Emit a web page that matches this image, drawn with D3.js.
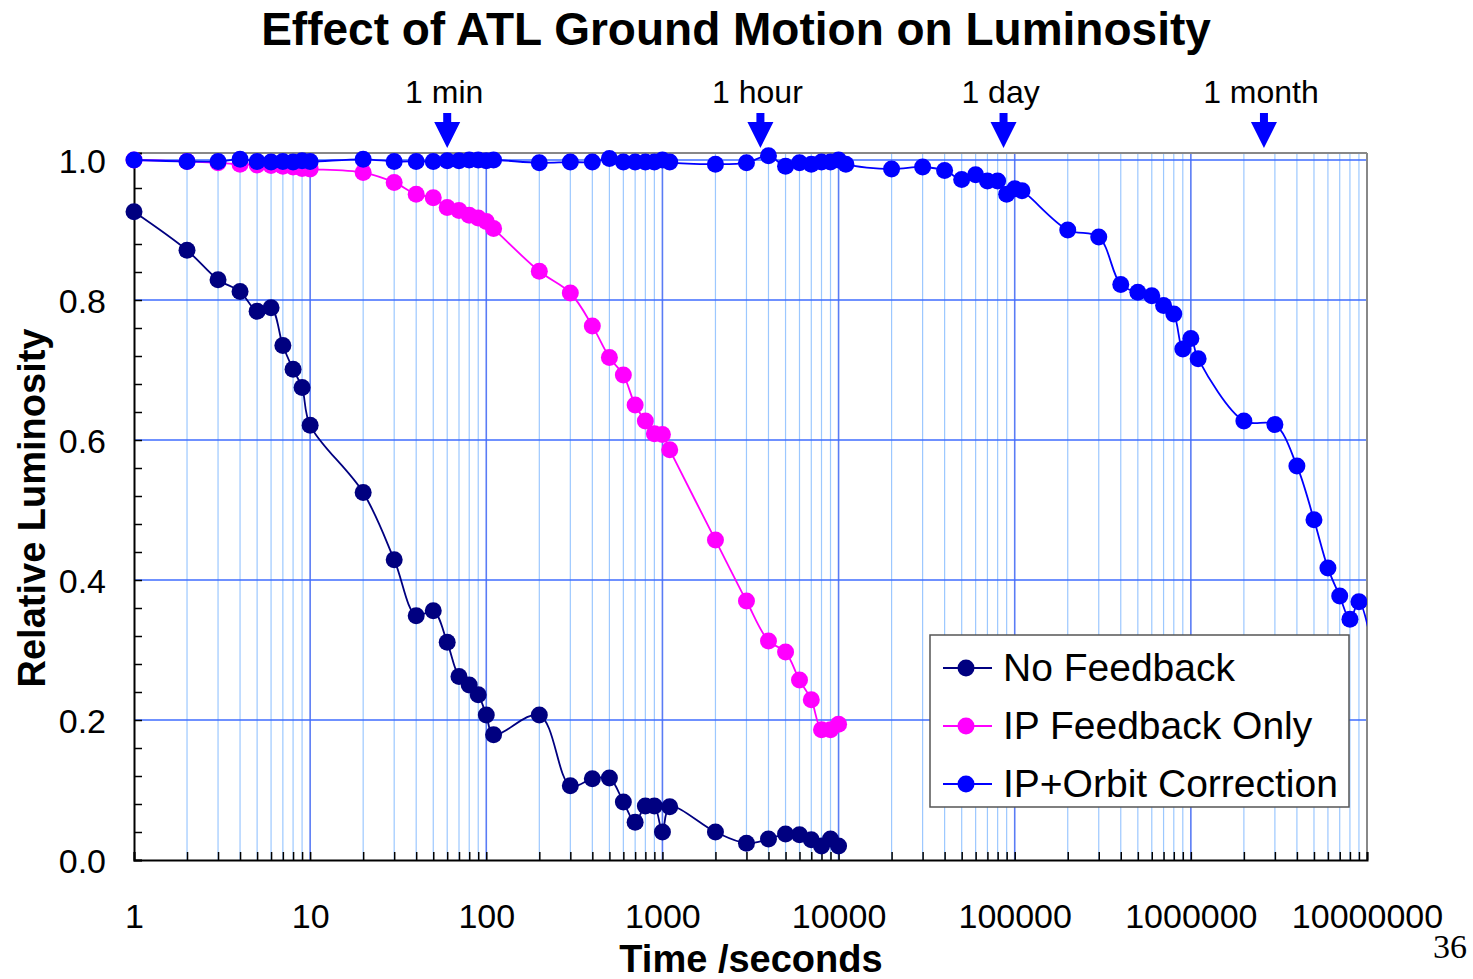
<!DOCTYPE html>
<html>
<head>
<meta charset="utf-8">
<script src="https://cdn.jsdelivr.net/npm/d3@7"></script>
<style>
  body { margin: 0; background: #fff; }
  text { font-family: "Liberation Sans", Arial, sans-serif; }
</style>
</head>
<body>
<div id="chart"></div>
<script>
// time points (seconds) - same grid for the two short series
const timesShort = [1, 2, 3, 4, 5, 6, 7, 8, 9, 10, 20, 30, 40, 50, 60, 70, 80, 90, 100, 110,
    200, 300, 400, 500, 600, 700, 800, 900, 1000, 1100,
    2000, 3000, 4000, 5000, 6000, 7000, 8000, 9000, 10000];

const noFeedback = [0.926, 0.871, 0.829, 0.812, 0.784, 0.789, 0.735, 0.701, 0.675, 0.621,
    0.525, 0.429, 0.349, 0.356, 0.311, 0.262, 0.25, 0.236, 0.207, 0.179,
    0.207, 0.106, 0.116, 0.117, 0.083, 0.054, 0.077, 0.077, 0.04, 0.076,
    0.04, 0.024, 0.03, 0.037, 0.036, 0.029, 0.02, 0.03, 0.02];

const ipFeedback = [1.0, 0.998, 0.996, 0.994, 0.993, 0.992, 0.991, 0.99, 0.988, 0.987,
    0.982, 0.968, 0.951, 0.946, 0.932, 0.928, 0.921, 0.917, 0.912, 0.902,
    0.841, 0.81, 0.763, 0.718, 0.693, 0.65, 0.627, 0.609, 0.608, 0.586,
    0.457, 0.37, 0.313, 0.297, 0.257, 0.229, 0.186, 0.186, 0.194];

const timesLong = [1, 2, 3, 4, 5, 6, 7, 8, 9, 10, 20, 30, 40, 50, 60, 70, 80, 90, 100, 110,
    200, 300, 400, 500, 600, 700, 800, 900, 1000, 1100,
    2000, 3000, 4000, 5000, 6000, 7000, 8000, 9000, 10000, 11000,
    20000, 30000, 40000, 50000, 60000, 70000, 80000, 90000, 100000, 110000,
    2e5, 3e5, 4e5, 5e5, 6e5, 7e5, 8e5, 9e5, 1e6, 1.1e6,
    2e6, 3e6, 4e6, 5e6, 6e6, 7e6, 8e6, 9e6, 1.1e7];

const ipOrbit = [1.0, 0.998, 0.998, 1.001, 0.998, 0.997, 0.998, 0.997, 0.999, 0.998,
    1.001, 0.998, 0.998, 0.998, 0.999, 0.999, 1.0, 1.0, 0.999, 1.0,
    0.996, 0.997, 0.997, 1.002, 0.997, 0.997, 0.997, 0.997, 1.0, 0.997,
    0.994, 0.996, 1.006, 0.991, 0.996, 0.994, 0.997, 0.997, 1.0, 0.994,
    0.987, 0.99, 0.985, 0.972, 0.979, 0.97, 0.97, 0.951, 0.959, 0.956,
    0.9, 0.89, 0.822, 0.811, 0.806, 0.792, 0.78, 0.73, 0.745, 0.716,
    0.627, 0.622, 0.563, 0.486, 0.417, 0.377, 0.344, 0.369, 0.29];

const seriesNames = ["No Feedback", "IP Feedback Only", "IP+Orbit Correction"];
const seriesColors = ["#000080", "#ff00ff", "#0000ff"];

const xTickValues = [1, 10, 100, 1000, 10000, 100000, 1000000, 10000000];
const yTickValues = [0, 0.2, 0.4, 0.6, 0.8, 1.0];

const markers = [
    { label: "1 min", t: 60 },
    { label: "1 hour", t: 3600 },
    { label: "1 day", t: 86400 },
    { label: "1 month", t: 2.6e6 }
];

const width = 1473, height = 979;
const plotL = 134, plotR = 1367, plotT = 153, plotB = 860;

const svg = d3.select("#chart").append("svg")
    .attr("width", width)
    .attr("height", height);

const x = d3.scaleLog().domain([1, 1e7]).range([plotL, plotR]);
const y = d3.scaleLinear().domain([0, 1.01]).range([plotB, plotT]);

// minor log positions
let minorX = [];
for (let e = 0; e < 7; e++) {
    for (let m = 2; m <= 9; m++) minorX.push(m * Math.pow(10, e));
}

// grid
const grid = svg.append("g");
grid.selectAll(".vminor").data(minorX).enter().append("line")
    .attr("x1", d => x(d)).attr("x2", d => x(d))
    .attr("y1", plotT).attr("y2", plotB)
    .attr("stroke", "#9cc8ff").attr("stroke-width", 1.2);
grid.selectAll(".vmajor").data(xTickValues.slice(1, -1)).enter().append("line")
    .attr("x1", d => x(d)).attr("x2", d => x(d))
    .attr("y1", plotT).attr("y2", plotB)
    .attr("stroke", "#5a7cf5").attr("stroke-width", 1.6);
grid.selectAll(".hgrid").data(yTickValues.slice(1)).enter().append("line")
    .attr("x1", plotL).attr("x2", plotR)
    .attr("y1", d => y(d)).attr("y2", d => y(d))
    .attr("stroke", "#3f6cff").attr("stroke-width", 1.6);

// frame: gray top/right, black left/bottom
svg.append("line").attr("x1", plotL).attr("x2", plotR).attr("y1", plotT).attr("y2", plotT)
    .attr("stroke", "#888").attr("stroke-width", 2);
svg.append("line").attr("x1", plotR).attr("x2", plotR).attr("y1", plotT).attr("y2", plotB)
    .attr("stroke", "#888").attr("stroke-width", 2);

// axes
const xAxis = d3.axisBottom(x).tickValues(xTickValues.concat(minorX))
    .tickSize(-8).tickFormat(d => xTickValues.includes(d) ? d3.format("d")(d) : "");
const gx = svg.append("g").attr("transform", `translate(0,${plotB})`).call(xAxis);
gx.select(".domain").attr("stroke", "#000").attr("stroke-width", 2);
gx.selectAll(".tick line").attr("stroke", "#000").attr("stroke-width", 1.5);
gx.selectAll(".tick text").attr("font-size", 34).attr("fill", "#000")
    .attr("dy", 0).attr("y", 68);

const yMinor = d3.range(0, 1.001, 0.04);
const yAxis = d3.axisLeft(y).tickValues(yMinor)
    .tickSize(-8).tickFormat(d => {
        const r = Math.round(d * 100);
        return r % 20 === 0 ? d3.format(".1f")(d) : "";
    });
const gy = svg.append("g").attr("transform", `translate(${plotL},0)`).call(yAxis);
gy.select(".domain").attr("stroke", "#000").attr("stroke-width", 2);
gy.selectAll(".tick line").attr("stroke", "#000").attr("stroke-width", 1.5);
gy.selectAll(".tick text").attr("font-size", 34).attr("fill", "#000")
    .attr("x", -28).attr("dy", "0.36em");

// series
const allSeries = [
    { name: seriesNames[0], color: seriesColors[0], pts: timesShort.map((t, i) => [t, noFeedback[i]]) },
    { name: seriesNames[1], color: seriesColors[1], pts: timesShort.map((t, i) => [t, ipFeedback[i]]) },
    { name: seriesNames[2], color: seriesColors[2], pts: timesLong.map((t, i) => [t, ipOrbit[i]]) }
];

svg.append("clipPath").attr("id", "clip").append("rect")
    .attr("x", 0).attr("y", 0).attr("width", plotR).attr("height", height);

const line = d3.line()
    .x(d => x(d[0])).y(d => y(d[1]))
    .curve(d3.curveCatmullRom.alpha(0.5));

allSeries.forEach(s => {
    const g = svg.append("g").attr("clip-path", "url(#clip)");
    g.append("path")
        .attr("d", line(s.pts))
        .attr("fill", "none")
        .attr("stroke", s.color)
        .attr("stroke-width", 1.8);
    g.selectAll("circle")
        .data(s.pts.filter(d => d[0] <= 1e7))
        .enter().append("circle")
        .attr("cx", d => x(d[0])).attr("cy", d => y(d[1]))
        .attr("r", 8.5)
        .attr("fill", s.color);
});

// time markers
markers.forEach(m => {
    const cx = x(m.t);
    svg.append("text")
        .attr("x", cx - 3).attr("y", 103)
        .attr("text-anchor", "middle")
        .attr("font-size", 32)
        .text(m.label);
    svg.append("path")
        .attr("d", `M${cx - 4},113 L${cx + 4},113 L${cx + 4},122 L${cx + 13},122 L${cx},148 L${cx - 13},122 L${cx - 4},122 Z`)
        .attr("fill", "#0000ff");
});

// legend
const lg = svg.append("g");
lg.append("rect")
    .attr("x", 930).attr("y", 635).attr("width", 419).attr("height", 172)
    .attr("fill", "#fff").attr("stroke", "#555").attr("stroke-width", 1.5);
allSeries.forEach((s, i) => {
    const ly = 668 + i * 58;
    lg.append("line").attr("x1", 943).attr("x2", 992).attr("y1", ly).attr("y2", ly)
        .attr("stroke", s.color).attr("stroke-width", 2);
    lg.append("circle").attr("cx", 966).attr("cy", ly).attr("r", 8.5).attr("fill", s.color);
    lg.append("text").attr("x", 1003).attr("y", ly + 13)
        .attr("font-size", 39).text(s.name);
});

// titles
svg.append("text")
    .attr("x", 736).attr("y", 45)
    .attr("text-anchor", "middle")
    .attr("font-size", 46).attr("font-weight", "bold")
    .text("Effect of ATL Ground Motion on Luminosity");

svg.append("text")
    .attr("x", 751).attr("y", 972)
    .attr("text-anchor", "middle")
    .attr("font-size", 38).attr("font-weight", "bold")
    .text("Time /seconds");

svg.append("text")
    .attr("transform", "translate(45,508) rotate(-90)")
    .attr("text-anchor", "middle")
    .attr("font-size", 38).attr("font-weight", "bold")
    .text("Relative Luminosity");

// page number, serif like the slide it came from
svg.append("text")
    .attr("x", 1467).attr("y", 958)
    .attr("text-anchor", "end")
    .attr("font-size", 34)
    .style("font-family", "'Liberation Serif', 'Times New Roman', serif")
    .text("36");
</script>
</body>
</html>
